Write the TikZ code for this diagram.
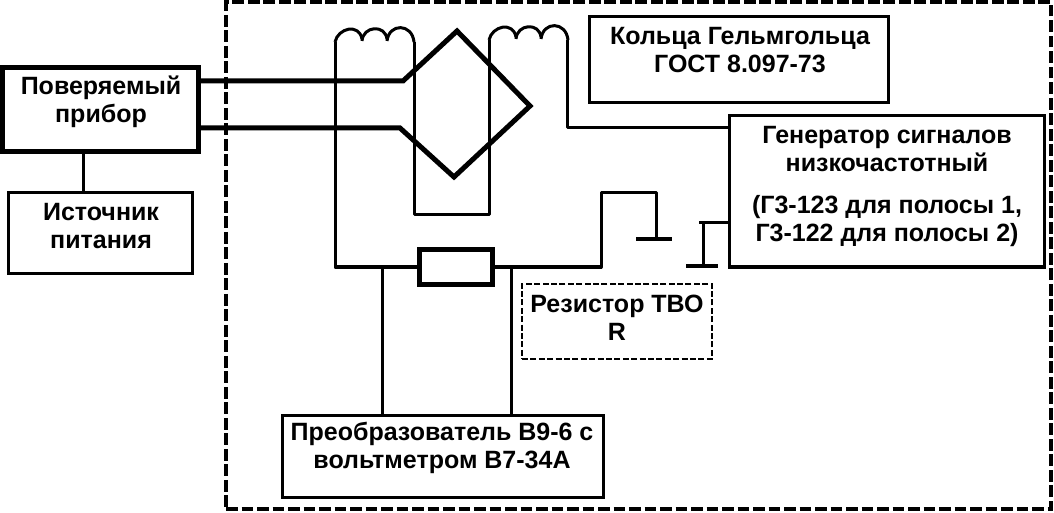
\documentclass[tikz,border=0pt]{standalone}
\usepackage{fontspec}
\setmainfont{Liberation Sans}
\usepackage{tikz}
\usetikzlibrary{calc}
\newcommand{\lw}{1.5pt}
\newcommand{\coil}[2]{% three turns from the left end, given at the cusp height
    \draw[wire] (#1,#2) .. controls ($(#1,#2)+(3,-14)$) and ($(#1,#2)+(24,-19)$) .. ($(#1,#2)+(27,-3)$);
    \draw[wire] ($(#1,#2)+(27,-1)$) .. controls ($(#1,#2)+(28,-16)$) and ($(#1,#2)+(50,-18)$) .. ($(#1,#2)+(52,-3)$);
    \draw[wire] ($(#1,#2)+(52,-1)$) .. controls ($(#1,#2)+(54,-19)$) and ($(#1,#2)+(77,-19)$) .. ($(#1,#2)+(79,0)$);
}
\tikzset{
    box/.style={draw=black,line width=\lw,fill=none,inner sep=0pt},
    lbl/.style={align=center,inner sep=0pt,font=\bfseries\fontsize{12.5}{14}\selectfont},
    wire/.style={line width=\lw,line join=round},
    thick wire/.style={line width=2.5pt,line join=miter},
    bar/.style={line width=2.2pt}
}
\begin{document}
\begin{tikzpicture}[x=0.5pt,y=-0.5pt]
    \useasboundingbox (0,0) rectangle (1054,513);
    % frames
    \node[box,line width=2pt,dash pattern=on 5.9pt off 1.85pt,minimum width=412.5pt,minimum height=253.5pt] (frame) at (638.5,255.5) {};
    \node[box,line width=2.5pt,minimum width=98pt,minimum height=42pt] (dev) at (100,110) {};
    \node[box,minimum width=92pt,minimum height=40.5pt] (src) at (100,233) {};
    \node[box,minimum width=149.5pt,minimum height=43pt] (rings) at (738.5,60) {};
    \node[box,minimum width=157.5pt,minimum height=75.5pt] (gen) at (886.5,191.5) {};
    \node[box,minimum width=160.5pt,minimum height=41pt] (conv) at (442.5,456) {};
    \node[box,line width=1pt,dash pattern=on 3pt off 1.2pt,minimum width=95pt,minimum height=37.5pt] (tvo) at (617,321.5) {};
    \node[box,line width=2.5pt,minimum width=36.5pt,minimum height=17pt] (res) at (455.5,267) {};
    % captions
    \node[lbl] (devtxt) at (101,102) {Поверяемый\\прибор};
    \node[lbl] (srctxt) at (101,226) {Источник\\питания};
    \node[lbl] (ringstxt) at (740,50) {Кольца Гельмгольца\\ГОСТ 8.097-73};
    \node[lbl] (gentxt) at (887,186) {Генератор сигналов\\низкочастотный\\[7pt](Г3-123 для полосы 1,\\Г3-122 для полосы 2)};
    \node[lbl] (convtxt) at (442,448) {Преобразователь В9-6 с\\вольтметром В7-34А};
    \node[lbl] (tvotxt) at (617,318) {Резистор ТВО\\R};
    % points of the wiring
    \coordinate (l1) at (335,42);
    \coordinate (l2) at (414,42);
    \coordinate (r1) at (489,40);
    \coordinate (r2) at (567,40);
    \coordinate (a) at (403,81);
    \coordinate (b) at (457,31);
    \coordinate (c) at (530,106);
    \coordinate (d) at (454,177);
    \coordinate (e) at (400,128);
    \coordinate (k1) at (601,193);
    \coordinate (k2) at (656,193);
    \coordinate (k3) at (656,239);
    \coordinate (m0) at (699,223);
    \coordinate (m1) at (703,223);
    \coordinate (m2) at (703,266);
    % coils
    \coil{335}{42}
    \coil{489}{40}
    % wires
    \draw[wire] (83,0 |- src.north) -- (83,0 |- dev.south);
    \draw[wire] (l1) -- (l1 |- res) -- (res.west);
    \draw[wire] (l2) -- (414,215) -- (489,215) -- (r1);
    \draw[wire] (r2) -- (567,128) -- (567,128 -| gen.west);
    \draw[wire] (res.east) -- (601,267) -- (k1) -- (k2) -- (k3);
    \draw[wire] (gen.west |- m0) -- (m0);
    \draw[wire] (m1) -- (m2);
    \draw[wire] (382,267) -- (382,267 |- conv.north);
    \draw[wire] (511,267) -- (511,267 |- conv.north);
    % contacts
    \draw[bar] (636,239) -- (672,239);
    \draw[bar] (686,266) -- (718,266);
    % bridge
    \draw[thick wire] (dev.east |- a) -- (a) -- (b) -- (c) -- (d) -- (e) -- (dev.east |- e);
\end{tikzpicture}
\end{document}
